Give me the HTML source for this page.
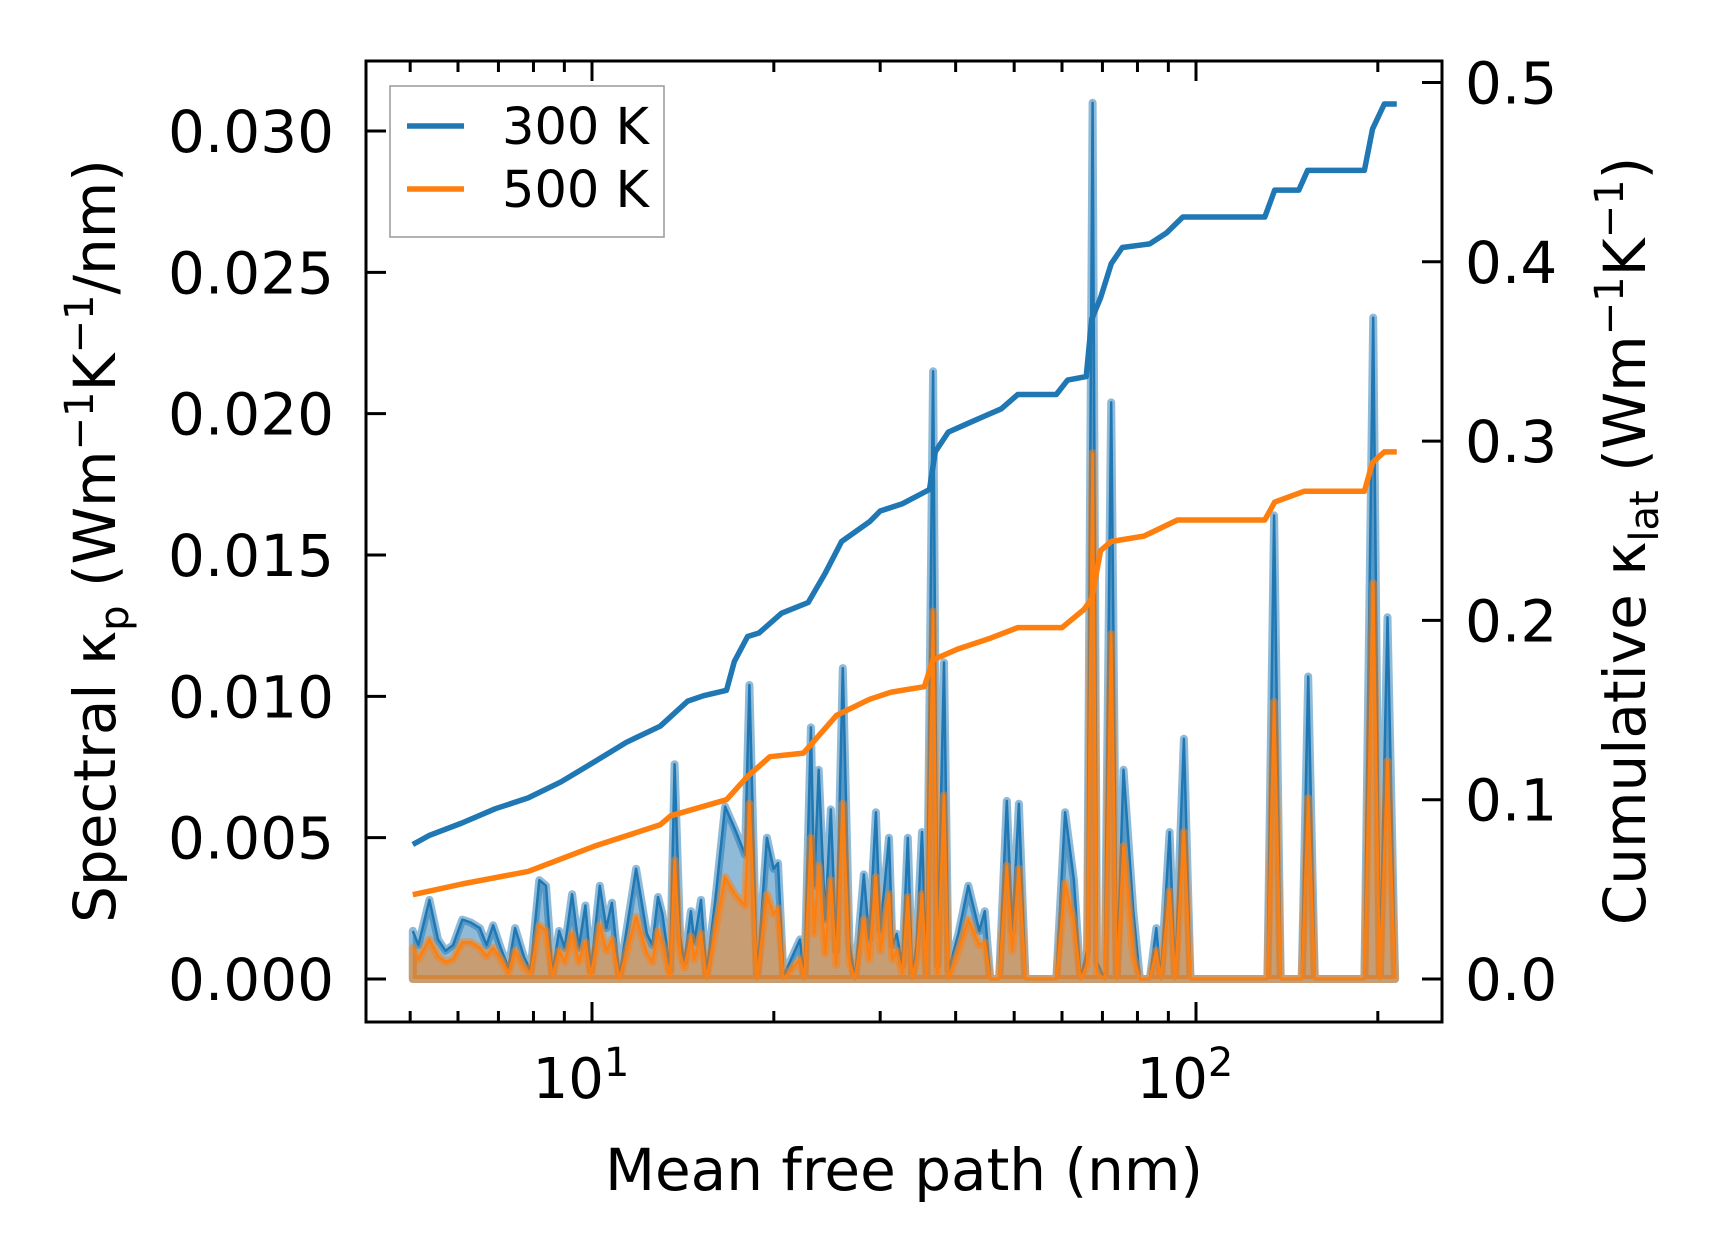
<!DOCTYPE html>
<html><head><meta charset="utf-8"><style>
html,body{margin:0;padding:0;background:#fff}
svg{display:block}
text{font-family:"DejaVu Sans","Liberation Sans",sans-serif;fill:#000}
</style></head><body>
<svg id="chart" width="1716" height="1255" viewBox="0 0 1716 1255" xmlns="http://www.w3.org/2000/svg">
<g id="marks"></g>
<g id="axes"></g>
</svg>
<script>
// Spectral data
const specMfp = [5.05,5.16,5.38,5.56,5.72,5.89,6.10,6.30,6.52,6.69,6.86,7.06,7.27,7.46,7.71,7.91,8.18,8.39,8.60,8.82,9.01,9.27,9.51,9.75,9.96,10.30,10.56,10.79,11.10,11.83,12.33,12.59,12.86,13.08,13.47,13.70,13.99,14.22,14.58,14.77,15.15,15.47,16.00,16.61,17.25,17.92,18.22,18.76,19.48,19.98,20.32,20.75,22.10,22.47,23.04,23.33,23.73,24.33,24.85,25.37,26.02,26.68,27.25,28.18,28.77,29.51,30.01,31.03,31.43,31.95,32.64,33.33,33.89,34.46,35.19,35.79,36.70,37.32,38.27,38.92,40.42,41.98,43.78,44.71,45.65,47.21,48.62,49.65,50.91,52.21,58.71,60.71,62.78,64.38,66.02,67.42,68.56,70.60,72.39,73.93,75.84,78.75,80.74,83.84,85.97,87.43,90.42,92.34,95.50,97.93,131.3,134.7,138.1,149.6,153.4,157.3,190.0,196.5,201.5,207.5,213.6];
const spec300 = [0.0017,0.0012,0.0028,0.0014,0.0010,0.0012,0.0021,0.0020,0.0018,0.0012,0.0019,0.0011,0.0004,0.0018,0.0008,0.0003,0.0035,0.0033,0.0002,0.0017,0.0011,0.0030,0.0011,0.0026,0.0003,0.0033,0.0018,0.0027,0.0001,0.0039,0.0016,0.0012,0.0029,0.0023,0.0003,0.0076,0.0015,0.0006,0.0024,0.0013,0.0028,0.0002,0.0028,0.0061,0.0053,0.0044,0.0104,0.0000,0.0050,0.0039,0.0041,0.0001,0.0014,0.0000,0.0089,0.0033,0.0074,0.0021,0.0060,0.0010,0.0110,0.0013,0.0000,0.0037,0.0014,0.0059,0.0017,0.0050,0.0012,0.0016,0.0005,0.0050,0.0001,0.0012,0.0052,0.0002,0.0215,0.0005,0.0112,0.0003,0.0016,0.0033,0.0017,0.0024,0.0000,0.0000,0.0063,0.0017,0.0062,0.0000,0.0000,0.0059,0.0035,0.0000,0.0010,0.0310,0.0006,0.0000,0.0204,0.0000,0.0074,0.0024,0.0000,0.0000,0.0018,0.0000,0.0052,0.0000,0.0085,0.0000,0.0000,0.0164,0.0000,0.0000,0.0107,0.0000,0.0000,0.0234,0.0000,0.0128,0.0000];
const spec500 = [0.0011,0.0007,0.0014,0.0008,0.0006,0.0007,0.0013,0.0013,0.0011,0.0008,0.0011,0.0007,0.0002,0.0010,0.0004,0.0002,0.0019,0.0017,0.0001,0.0010,0.0006,0.0016,0.0006,0.0013,0.0001,0.0019,0.0010,0.0014,0.0000,0.0022,0.0009,0.0006,0.0017,0.0012,0.0001,0.0042,0.0009,0.0004,0.0015,0.0007,0.0016,0.0000,0.0017,0.0036,0.0030,0.0026,0.0062,0.0000,0.0030,0.0023,0.0025,0.0000,0.0007,0.0000,0.0050,0.0016,0.0040,0.0009,0.0035,0.0005,0.0062,0.0006,0.0000,0.0021,0.0007,0.0036,0.0010,0.0030,0.0007,0.0010,0.0002,0.0029,0.0000,0.0007,0.0030,0.0001,0.0130,0.0002,0.0065,0.0000,0.0010,0.0021,0.0012,0.0013,0.0000,0.0000,0.0040,0.0010,0.0039,0.0000,0.0000,0.0034,0.0020,0.0000,0.0005,0.0186,0.0002,0.0000,0.0122,0.0000,0.0047,0.0008,0.0000,0.0000,0.0010,0.0000,0.0031,0.0000,0.0052,0.0000,0.0000,0.0098,0.0000,0.0000,0.0064,0.0000,0.0000,0.0140,0.0000,0.0077,0.0000];
// Cumulative data
const cumMfp300 = [5.05,5.37,6.09,6.92,7.84,8.89,10.08,11.4,12.97,14.4,15.3,16.7,17.2,18.1,18.9,20.6,22.8,24.3,25.9,28.8,30.0,32.6,36.2,37.0,38.9,42.0,44.7,47.6,50.7,58.7,61.3,65.8,67.2,69.5,72.4,75.5,83.8,89.3,95.1,130,135,148,153,190,196,205,215];
const cum300 = [0.075,0.080,0.087,0.095,0.101,0.110,0.121,0.132,0.141,0.155,0.158,0.161,0.177,0.191,0.193,0.204,0.210,0.226,0.244,0.255,0.261,0.265,0.273,0.294,0.305,0.310,0.314,0.318,0.326,0.326,0.334,0.336,0.368,0.380,0.399,0.408,0.410,0.416,0.425,0.425,0.440,0.440,0.451,0.451,0.474,0.488,0.488];
const cumMfp500 = [5.05,6.09,7.84,10.08,12.97,13.5,16.7,18.1,19.7,22.4,25.4,28.8,31.3,35.5,36.7,40.3,45.6,50.7,60.0,65.2,67.2,69.5,72.4,82.0,93.2,130,135,151,190,196,205,215];
const cum500 = [0.047,0.053,0.060,0.074,0.086,0.091,0.100,0.113,0.124,0.126,0.147,0.156,0.160,0.163,0.178,0.184,0.190,0.196,0.196,0.206,0.212,0.239,0.244,0.247,0.256,0.256,0.266,0.272,0.272,0.288,0.294,0.294];
const leftTicks = [0,0.005,0.010,0.015,0.020,0.025,0.030];
const leftTickLabels = ["0.000","0.005","0.010","0.015","0.020","0.025","0.030"];
const rightTicks = [0,0.1,0.2,0.3,0.4,0.5];
const rightTickLabels = ["0.0","0.1","0.2","0.3","0.4","0.5"];
const seriesLabels = ["300 K","500 K"];

const NS="http://www.w3.org/2000/svg";
const L=366,R=1442,T=61,B=1022;
const xS=v=>592+(Math.log10(v)-1)*604;
const yL=v=>979-v*28267;
const yR=v=>979-v*1793;
const marks=document.getElementById('marks'), axes=document.getElementById('axes');
function mk(tag,attrs,parent){const e=document.createElementNS(NS,tag);for(const k in attrs)e.setAttribute(k,attrs[k]);parent.appendChild(e);return e;}
function pts(xs,ys,fy){return xs.map((x,i)=>xS(x).toFixed(1)+','+fy(ys[i]).toFixed(1)).join(' ');}

[[spec300,'#1f77b4'],[spec500,'#ff7f0e']].forEach(([arr,c],k)=>{
  const line=pts(specMfp,arr,yL);
  const poly=line+' '+xS(specMfp[specMfp.length-1]).toFixed(1)+','+yL(0)+' '+xS(specMfp[0]).toFixed(1)+','+yL(0);
  const f=mk('polygon',{points:poly,fill:c,'fill-opacity':0.5,stroke:c,'stroke-opacity':0.5,'stroke-width':8,'stroke-linejoin':'round'},marks);
  
  
  const l=mk('polyline',{points:line,fill:'none',stroke:c,'stroke-width':2.5,'stroke-linejoin':'round'},marks);
  
  
});
[[cumMfp300,cum300,'#1f77b4'],[cumMfp500,cum500,'#ff7f0e']].forEach(([xs,ys,c],k)=>{
  const l=mk('polyline',{points:pts(xs,ys,yR),fill:'none',stroke:c,'stroke-width':5.5,'stroke-linejoin':'round'},marks);
  
  
});

const fr=mk('rect',{x:L,y:T,width:R-L,height:B-T,fill:'none',stroke:'#000','stroke-width':3},axes);


leftTicks.forEach((v,i)=>{
  const y=yL(v);
  mk('line',{x1:L,x2:L+20,y1:y,y2:y,stroke:'#000','stroke-width':3},axes);
  const t=mk('text',{x:L-32,y:y+21,'font-size':58,'text-anchor':'end'},axes);
  t.textContent=leftTickLabels[i];
  
  
});
rightTicks.forEach((v,i)=>{
  const y=yR(v);
  mk('line',{x1:R,x2:R-20,y1:y,y2:y,stroke:'#000','stroke-width':3},axes);
  const t=mk('text',{x:R+23,y:y+21,'font-size':58},axes);
  t.textContent=rightTickLabels[i];
  
  
});
[5,6,7,8,9,10,20,30,40,50,60,70,80,90,100,200].forEach(v=>{
  const x=xS(v), maj=(v===10||v===100), len=maj?20:11;
  mk('line',{x1:x,x2:x,y1:B,y2:B-len,stroke:'#000','stroke-width':3},axes);
  mk('line',{x1:x,x2:x,y1:T,y2:T+len,stroke:'#000','stroke-width':3},axes);
});
[[10,'1'],[100,'2']].forEach(([v,e])=>{
  const t=mk('text',{x:xS(v)-11,y:1098,'font-size':56,'text-anchor':'middle'},axes);
  t.innerHTML='10<tspan font-size="40" dy="-22">'+e+'</tspan>';
  
  
});
const xl=mk('text',{x:904,y:1190,'font-size':58,'text-anchor':'middle'},axes);
xl.textContent='Mean free path (nm)';


const yl=mk('text',{transform:'translate(115,541) rotate(-90)','font-size':58,'text-anchor':'middle'},axes);
yl.innerHTML='Spectral κ<tspan font-size="40" dy="13">p</tspan><tspan dy="-13"> (Wm</tspan><tspan font-size="40" dy="-22">−1</tspan><tspan dy="22">K</tspan><tspan font-size="40" dy="-22">−1</tspan><tspan dy="22">/nm)</tspan>';


const yr=mk('text',{transform:'translate(1645,541) rotate(-90)','font-size':58,'text-anchor':'middle'},axes);
yr.innerHTML='Cumulative κ<tspan font-size="40" dy="13">lat</tspan><tspan dy="-13"> (Wm</tspan><tspan font-size="40" dy="-22">−1</tspan><tspan dy="22">K</tspan><tspan font-size="40" dy="-22">−1</tspan><tspan dy="22">)</tspan>';



const lg=mk('g',{},axes);


mk('rect',{x:390,y:86,width:274,height:151,fill:'#fff','fill-opacity':0.8,stroke:'#999','stroke-width':1.5},lg);
['#1f77b4','#ff7f0e'].forEach((c,i)=>{
  const y=126+i*63;
  const e=mk('g',{},lg);
  
  
  mk('line',{x1:407,x2:464,y1:y,y2:y,stroke:c,'stroke-width':5.5},e);
  const t=mk('text',{x:502,y:y+18,'font-size':51},e);
  t.textContent=seriesLabels[i];
});
</script>
</body></html>
